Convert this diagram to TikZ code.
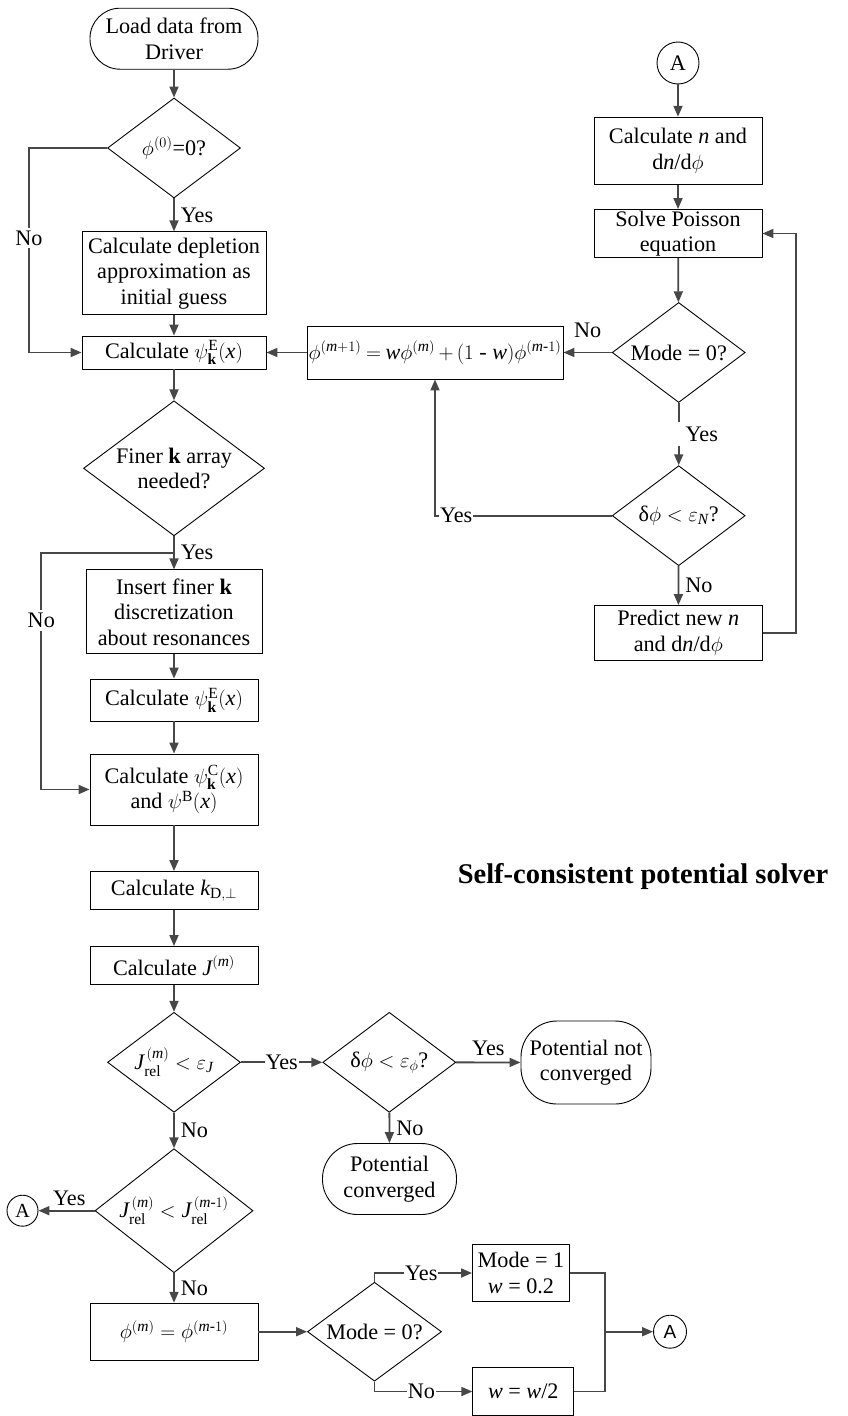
\documentclass[tikz,border=0pt]{standalone}
\usepackage{amsmath}
\usepackage{fontspec}
\setmainfont{Liberation Serif}
\newfontfamily\arialf{Liberation Sans}
\usetikzlibrary{shapes.geometric,arrows.meta,calc}
\definecolor{conn}{HTML}{474747}
\newcommand\vi[1]{\textit{#1}}
\tikzset{
  box/.style={draw=black, line width=0.9pt, rectangle, inner sep=0pt, align=center},
  term/.style={box, rounded corners=#1},
  dia/.style={draw=black, line width=0.9pt, diamond, inner sep=0pt},
  conc/.style={draw=black, line width=0.9pt, circle, inner sep=0pt},
  line/.style={draw=conn, line width=1.8pt},
  arr/.style={line, -{Triangle[length=11pt,width=9pt]}},
  lbl/.style={inner sep=1pt},
}
\begin{document}
\begin{tikzpicture}[x=1pt,y=-1pt, every node/.append style={font=\fontsize{22.2}{25.5}\selectfont}]
\useasboundingbox (0,0) rectangle (848,1416);

% ---- left column ----
\node[term=30pt, minimum width=168pt, minimum height=61pt] (load) at (174,38.7) {Load data from\\Driver};
\node[dia, minimum width=133pt, minimum height=100pt, label={center:{$\phi^{(0)}$=0?}}] (d1) at (174,148) {};
\node[box, minimum width=184pt, minimum height=83pt] (dep) at (174,273.3) {Calculate depletion\\approximation as\\initial guess};
\node[box, minimum width=184pt, minimum height=33pt] (psiE) at (174,352.5) {Calculate $\psi^{\mathrm{E}}_{\mathbf{k}}(\vi{x})$};
\node[dia, minimum width=181pt, minimum height=135pt, label={[align=center]center:{Finer \textbf{k} array\\needed?}}] (finer) at (174,468.3) {};
\node[box, minimum width=176pt, minimum height=84pt] (ins) at (174,611.8) {Insert finer \textbf{k}\\discretization\\about resonances};
\node[box, minimum width=168pt, minimum height=42pt] (psiE2) at (174,700) {Calculate $\psi^{\mathrm{E}}_{\mathbf{k}}(\vi{x})$};
\node[box, minimum width=168pt, minimum height=71pt] (psiC) at (174,789.5) {Calculate $\psi^{\mathrm{C}}_{\mathbf{k}}(\vi{x})$\\and $\psi^{\mathrm{B}}(\vi{x})$};
\node[box, minimum width=168pt, minimum height=38pt] (kbox) at (174,890.5) {Calculate $\vi{k}_{\mathrm{D},\perp}$};
\node[box, minimum width=168pt, minimum height=38pt] (Jbox) at (174,965.5) {Calculate $\vi{J}^{(\vi{m})}$};
\node[dia, minimum width=133pt, minimum height=100pt, label={center:{$\vi{J}^{\,(\vi{m})}_{\mathrm{rel}} < \varepsilon_{\vi{J}}$}}] (jrel) at (174,1062.3) {};
\node[dia, minimum width=133pt, minimum height=100pt, label={center:{δ$\phi < \varepsilon_\phi$?}}] (dphiF) at (389.3,1062.3) {};
\node[term=36pt, minimum width=130pt, minimum height=83pt] (pnc) at (586,1062.5) {Potential not\\converged};
\node[term=35pt, minimum width=134pt, minimum height=71pt] (pc) at (389.5,1179) {Potential\\converged};
\node[dia, minimum width=158pt, minimum height=124pt, label={center:{$\vi{J}^{\,(\vi{m})}_{\mathrm{rel}} < \vi{J}^{\,(\vi{m}\text{-}1)}_{\mathrm{rel}}$}}] (jrel2) at (174,1210.7) {};
\node[conc, minimum size=31pt, font=\fontsize{20}{22}\selectfont] (Aleft) at (22.5,1210.7) {A};
\node[box, minimum width=168pt, minimum height=57pt] (eqbox) at (174,1331.7) {$\phi^{(\vi{m})} = \phi^{(\vi{m}\text{-}1)}$};
\node[dia, minimum width=134pt, minimum height=99pt, label={center:{Mode = 0?}}] (mode3) at (374.5,1331.7) {};
\node[box, minimum width=97pt, minimum height=57pt] (m1) at (521,1273) {Mode = 1\\\vi{w} = 0.2};
\node[box, minimum width=101pt, minimum height=48pt] (w2) at (523.3,1391.5) {\vi{w} = \vi{w}/2};
\node[conc, minimum size=33pt, font=\fontsize{19}{22}\selectfont\arialf] (Aright) at (670,1331.7) {A};

% ---- right column ----
\node[conc, minimum size=42pt] (Atop) at (678,63) {A};
\node[box, minimum width=168pt, minimum height=67pt] (nbox) at (678,150.7) {Calculate \vi{n} and\\d\vi{n}/d$\phi$};
\node[box, minimum width=168pt, minimum height=48pt] (pois) at (678,233.5) {Solve Poisson\\equation};
\node[dia, minimum width=133pt, minimum height=100pt, label={center:{Mode = 0?}}] (mode2) at (678.7,352.5) {};
\node[box, minimum width=256pt, minimum height=53pt] (upd) at (435,352.5) {\thickmuskip=4mu \medmuskip=3mu $\phi^{(\vi{m}+1)} = \vi{w}\phi^{(\vi{m})} + (1\text{ - }\vi{w})\phi^{(\vi{m}\text{-}1)}$};
\node[dia, minimum width=133pt, minimum height=100pt, label={center:{δ$\phi < \varepsilon_{\vi{N}}$?}}] (dphiN) at (678.7,515.7) {};
\node[box, minimum width=168pt, minimum height=55pt] (pred) at (678.3,633) {Predict new \vi{n}\\and d\vi{n}/d$\phi$};

\node[font=\fontsize{28.5}{32}\selectfont\bfseries] (title) at (643,876) {Self-consistent potential solver};

% ---- connectors, left ----
\coordinate (c1) at (29,148);
\coordinate (j1) at (174,553);
\coordinate (c2) at (41.3,553);
\draw[arr] (load) -- (d1);
\draw[arr] (d1) -- (dep) node[lbl, pos=.5, right=5pt]{Yes};
\draw[arr] (d1.west) -- (c1) -- (c1 |- psiE.west) node[lbl, pos=0.44, fill=white, inner sep=3pt]{No} -- (psiE.west);
\draw[arr] (dep) -- (psiE);
\draw[arr] (upd) -- (psiE);
\draw[arr] (psiE) -- (finer);
\draw[arr] (finer) -- (ins) node[lbl, pos=.5, right=5pt]{Yes};
\draw[arr] (j1) -- (c2) -- (c2 |- psiC.west) node[lbl, pos=0.286, fill=white, inner sep=3pt]{No} -- (psiC.west);
\draw[arr] (ins) -- (psiE2);
\draw[arr] (psiE2) -- (psiC);
\draw[arr] (psiC) -- (kbox);
\draw[arr] (kbox) -- (Jbox);
\draw[arr] (Jbox) -- (jrel);
\draw[arr] (jrel) -- (dphiF) node[lbl, pos=.5, fill=white]{Yes};
\draw[arr] (dphiF) -- (pnc) node[lbl, pos=.5, above=5pt]{Yes};
\draw[arr] (dphiF) -- (pc) node[lbl, pos=.5, right=5pt]{No};
\draw[arr] (jrel) -- (jrel2) node[lbl, pos=.5, right=5pt]{No};
\draw[arr] (jrel2) -- (Aleft) node[lbl, pos=.45, above=3pt]{Yes};
\draw[arr] (jrel2) -- (eqbox) node[lbl, pos=.5, right=5pt]{No};
\draw[arr] (eqbox) -- (mode3);
\draw[arr] (mode3.north) |- (m1.west) node[lbl, pos=.74, fill=white]{Yes};
\draw[arr] (mode3.south) |- (w2.west) node[lbl, pos=.74, fill=white]{No};
\coordinate (mrg) at (605,1331.7);
\draw[line] (m1.east) -| (mrg);
\draw[line] (w2.east) -| (mrg);
\draw[arr] (mrg) -- (Aright);

% ---- connectors, right ----
\draw[arr] (Atop) -- (nbox);
\draw[arr] (nbox) -- (pois);
\draw[arr] (pois) -- (mode2);
\draw[arr] (mode2) -- (upd) node[lbl, pos=.5, above=13pt]{No};
\draw[arr] (mode2) -- (dphiN) node[lbl, pos=.5, anchor=west, xshift=-2pt, fill=white, inner xsep=8pt, inner ysep=5pt]{Yes};
\draw[arr] (dphiN.west) -- (dphiN.west -| upd.south) node[lbl, pos=.88, fill=white]{Yes} -- (upd.south);
\draw[arr] (dphiN) -- (pred) node[lbl, pos=.5, right=5pt]{No};
\coordinate (c3) at (796,633);
\draw[arr] (pred.east) -- (c3) |- (pois.east);
\end{tikzpicture}
\end{document}
